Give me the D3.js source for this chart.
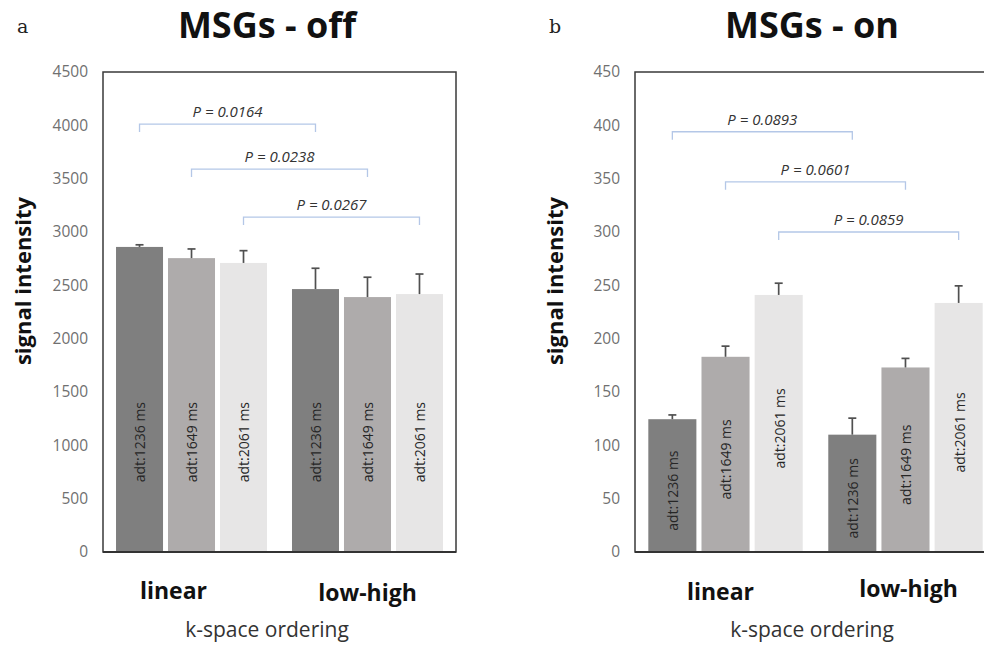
<!DOCTYPE html>
<html>
<head>
<meta charset="utf-8">
<script src="https://cdn.jsdelivr.net/npm/d3@7"></script>
<style>
  body { margin: 0; background: #fff; }
  svg { display: block; font-family: "Open Sans", sans-serif; }
</style>
</head>
<body>
<svg id="chart" width="984" height="645"></svg>
<script>
// data
var orderings = ["linear", "low-high"];
var seriesNames = ["adt:1236 ms", "adt:1649 ms", "adt:2061 ms"];
var seriesColors = ["#7f7f7f", "#aeabab", "#e7e6e6"];

// MSGs off: mean per ordering x adt, upper error
var offMeans = [[2860, 2755, 2710], [2465, 2390, 2418]];
var offErrs  = [[20, 86, 115], [195, 186, 188]];
var offTicks = [0, 500, 1000, 1500, 2000, 2500, 3000, 3500, 4000, 4500];
var offPLevels = [4012, 3590, 3140];
var offPLabels = ["P = 0.0164", "P = 0.0238", "P = 0.0267"];

// MSGs on
var onMeans = [[124.5, 183, 241], [110, 173, 233.5]];
var onErrs  = [[4, 10, 11], [15.5, 8.5, 16]];
var onTicks = [0, 50, 100, 150, 200, 250, 300, 350, 400, 450];
var onPLevels = [394, 347, 300];
var onPLabels = ["P = 0.0893", "P = 0.0601", "P = 0.0859"];

var svg = d3.select("#chart");

var panels = [
  { letter: "a", title: "MSGs - off", left: 103, boxW: 353, titleX: 267, means: offMeans, errs: offErrs,
    ticks: offTicks, pLevels: offPLevels, pLabels: offPLabels, catDx: [-18, 0], catDy: [0, 2], labelAt: 1030 },
  { letter: "b", title: "MSGs - on", left: 635, boxW: 361, titleX: 812, means: onMeans, errs: onErrs,
    ticks: onTicks, pLevels: onPLevels, pLabels: onPLabels, catDx: [-5, 3], catDy: [1, -2], labelAt: null }
];

var plotTop = 72, plotBottom = 552;

panels.forEach(function(p) {
  var g = svg.append("g");

  var y = d3.scaleLinear()
    .domain([0, d3.max(p.ticks)])
    .range([plotBottom, plotTop]);

  var x0 = d3.scaleBand()
    .domain(orderings)
    .range([p.left, p.left + p.boxW])
    .paddingInner(0.142)
    .paddingOuter(0.074);

  var x1 = d3.scaleBand()
    .domain(seriesNames)
    .range([0, x0.bandwidth()])
    .paddingInner(0.096);

  // panel letter + title
  g.append("text")
    .attr("x", p.left - 86)
    .attr("y", 33)
    .style("font-family", "'DejaVu Serif', 'Liberation Serif', serif")
    .style("font-size", "19px")
    .style("fill", "#222")
    .text(p.letter);

  g.append("text")
    .attr("x", p.titleX)
    .attr("y", 38)
    .attr("text-anchor", "middle")
    .style("font-size", "36px")
    .style("font-weight", "bold")
    .style("fill", "#111")
    .text(p.title);

  // y axis tick labels
  var yAxis = d3.axisLeft(y).tickValues(p.ticks).tickFormat(d3.format("d"))
    .tickSize(0).tickPadding(15);
  var ax = g.append("g")
    .attr("transform", "translate(" + p.left + ",0)")
    .call(yAxis);
  ax.select(".domain").remove();
  ax.selectAll("text")
    .style("font-family", "'Open Sans', sans-serif")
    .style("font-size", "15.5px")
    .style("fill", "#707070");

  // bars
  orderings.forEach(function(ord, i) {
    var grp = g.append("g").attr("transform", "translate(" + x0(ord) + ",0)");
    seriesNames.forEach(function(s, j) {
      var v = p.means[i][j], e = p.errs[i][j];
      var bx = x1(s), bw = x1.bandwidth(), cx = bx + bw / 2;

      grp.append("rect")
        .attr("x", bx)
        .attr("y", y(v))
        .attr("width", bw)
        .attr("height", y(0) - y(v))
        .style("fill", seriesColors[j]);

      // upper error bar
      grp.append("line")
        .attr("x1", cx).attr("x2", cx)
        .attr("y1", y(v)).attr("y2", y(v + e))
        .style("stroke", "#505050").style("stroke-width", 1.7);
      grp.append("line")
        .attr("x1", cx - 4).attr("x2", cx + 4)
        .attr("y1", y(v + e)).attr("y2", y(v + e))
        .style("stroke", "#505050").style("stroke-width", 1.7);

      var ly = p.labelAt !== null ? y(p.labelAt) : (y(v) + y(0)) / 2 + 5;
      grp.append("text")
        .attr("transform", "translate(" + (cx + 1) + "," + ly + ") rotate(-90)")
        .attr("text-anchor", "middle")
        .attr("dy", "0.35em")
        .style("font-size", "14px")
        .style("fill", "#262626")
        .text(s);
    });

    g.append("text")
      .attr("x", x0(ord) + x0.bandwidth() / 2 + p.catDx[i])
      .attr("y", 599 + p.catDy[i])
      .attr("text-anchor", "middle")
      .style("font-size", "23px")
      .style("font-weight", "bold")
      .style("fill", "#111")
      .text(ord);
  });

  // plot area frame
  g.append("rect")
    .attr("x", p.left)
    .attr("y", plotTop)
    .attr("width", p.boxW)
    .attr("height", plotBottom - plotTop)
    .style("fill", "none")
    .style("stroke", "#3a3a3a")
    .style("stroke-width", 1.5);
  g.append("line")
    .attr("x1", p.left).attr("x2", p.left + p.boxW)
    .attr("y1", plotBottom).attr("y2", plotBottom)
    .style("stroke", "#333").style("stroke-width", 2);

  // significance brackets: same adt, linear vs low-high
  seriesNames.forEach(function(s, j) {
    var xa = x0(orderings[0]) + x1(s) + x1.bandwidth() / 2;
    var xb = x0(orderings[1]) + x1(s) + x1.bandwidth() / 2;
    var by = y(p.pLevels[j]);
    g.append("path")
      .attr("d", "M" + xa + "," + (by + 8) + "V" + by + "H" + xb + "V" + (by + 8))
      .style("fill", "none")
      .style("stroke", "#b4c7e7")
      .style("stroke-width", 1.3);
    g.append("text")
      .attr("x", (xa + xb) / 2)
      .attr("y", by - 7)
      .attr("text-anchor", "middle")
      .style("font-size", "15px")
      .style("font-style", "italic")
      .style("fill", "#333")
      .text(p.pLabels[j]);
  });

  // axis titles
  g.append("text")
    .attr("transform", "translate(" + (p.left - 80) + "," + 281 + ") rotate(-90)")
    .attr("text-anchor", "middle")
    .attr("dy", "0.35em")
    .style("font-size", "22px")
    .style("font-weight", "bold")
    .style("fill", "#111")
    .text("signal intensity");

  g.append("text")
    .attr("x", p.titleX)
    .attr("y", 637)
    .attr("text-anchor", "middle")
    .style("font-size", "21px")
    .style("fill", "#333")
    .text("k-space ordering");
});
</script>
</body>
</html>
